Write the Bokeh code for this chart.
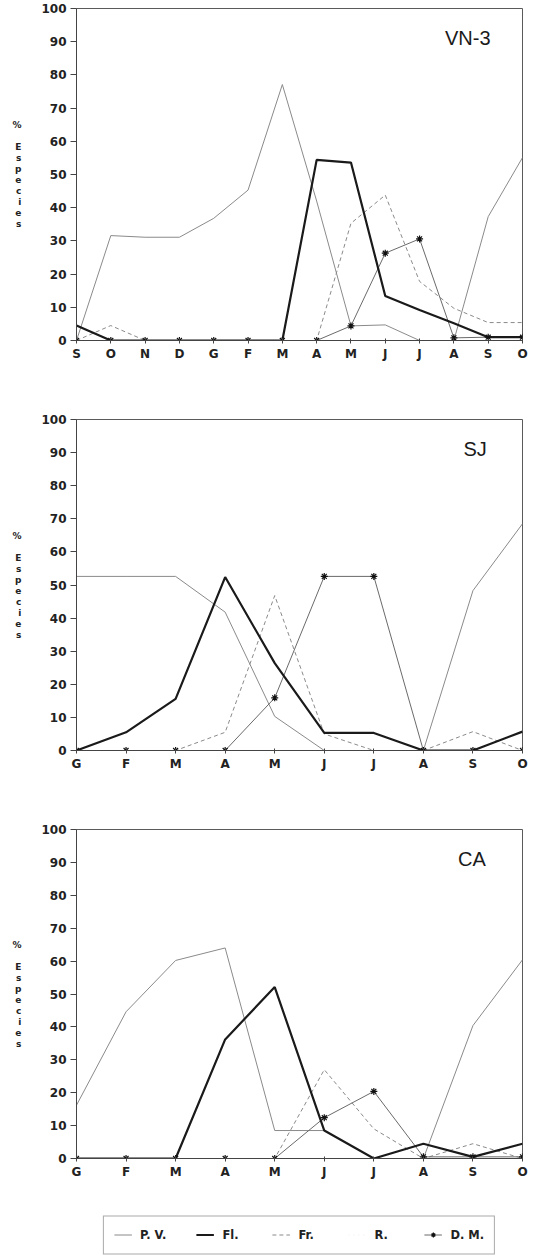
from bokeh.plotting import figure
from bokeh.models import Range1d, FixedTicker, Label, Legend, LegendItem, ColumnDataSource
from bokeh.layouts import column
from bokeh.embed import file_html
from bokeh.resources import INLINE

# ---------------- data ----------------
months_vn3 = ["S", "O", "N", "D", "G", "F", "M", "A", "M", "J", "J", "A", "S", "O"]
months_sj = ["G", "F", "M", "A", "M", "J", "J", "A", "S", "O"]
months_ca = ["G", "F", "M", "A", "M", "J", "J", "A", "S", "O"]

series_names = ["P. V.", "Fl.", "Fr.", "R.", "D. M."]

vn3_pv = [0, 31.6, 31.1, 31.1, 36.8, 45.3, 77.1, 42.0, 4.4, 4.7, 0, 0, 37.3, 55.1]
vn3_fl = [4.5, 0, 0, 0, 0, 0, 0, 54.4, 53.6, 13.4, 9.2, 5.2, 1.0, 1.0]
vn3_fr = [0, 4.5, 0, 0, 0, 0, 0, 0, 35.3, 43.8, 17.8, 9.7, 5.4, 5.4]
vn3_r = [0, 0, 0, 0, 0, 0, 0, 0, 0, 0, 0, 0, 0, 0]
vn3_dm = [0, 0, 0, 0, 0, 0, 0, 0, 4.4, 26.3, 30.6, 0.8, 1.0, 1.0]

sj_pv = [52.6, 52.6, 52.6, 41.8, 10.3, 0, 0, 0, 48.3, 68.5]
sj_fl = [0, 5.5, 15.6, 52.4, 26.4, 5.3, 5.3, 0, 0, 5.7]
sj_fr = [0, 0, 0, 5.5, 46.8, 5.0, 0, 0, 5.7, 0]
sj_r = [0, 0, 0, 0, 0, 0, 0, 0, 0, 0]
sj_dm = [0, 0, 0, 0, 15.9, 52.6, 52.6, 0, 0, 0]

ca_pv = [16.2, 44.6, 60.2, 64.0, 8.5, 8.5, 0, 0, 40.4, 60.4]
ca_fl = [0, 0, 0, 36.2, 52.1, 8.5, 0, 4.5, 0.5, 4.5]
ca_fr = [0, 0, 0, 0, 0, 27.0, 9.0, 0, 4.5, 0]
ca_r = [0, 0, 0, 0, 0, 0, 0, 0, 0, 0]
ca_dm = [0, 0, 0, 0, 0, 12.4, 20.4, 0.5, 0.5, 0.5]

y_label = "%\n\nE\ns\np\ne\nc\ni\ne\ns"

# ---------------- styles ----------------
PV_STYLE = dict(line_color="#8a8a8a", line_width=1)
FL_STYLE = dict(line_color="#1a1a1a", line_width=2.2)
FR_STYLE = dict(line_color="#8a8a8a", line_width=1, line_dash="4 3")
R_STYLE = dict(line_color="#ececec", line_width=1, line_dash="1 4")
DM_LINE_STYLE = dict(line_color="#6a6a6a", line_width=1)
DM_MARK_STYLE = dict(marker="asterisk", size=7, line_color="#111111", line_width=1.2)

TICK_FONT = "DejaVu Sans"


def make_source(months, pv, fl, fr, r, dm):
    return ColumnDataSource(data=dict(x=list(range(len(months))), pv=pv, fl=fl,
                                      fr=fr, r=r, dm=dm))


def make_panel(months, src, title, height, left, top, bottom, title_x):
    n = len(months)
    xs = list(range(n))
    right = 539 - left - 451 if left > 72 else 539 - left - 450
    p = figure(width=539, height=height,
               x_range=Range1d(0, n - 1), y_range=Range1d(0, 100),
               output_backend="svg", toolbar_location=None,
               min_border_left=left, min_border_right=right,
               min_border_top=top, min_border_bottom=bottom)
    p.xgrid.visible = False
    p.ygrid.visible = False
    p.outline_line_color = "#5a5a5a"
    p.outline_line_width = 1
    p.background_fill_color = "white"
    p.border_fill_color = "white"

    p.line("x", "r", source=src, **R_STYLE)
    p.line("x", "fr", source=src, **FR_STYLE)
    p.line("x", "pv", source=src, **PV_STYLE)
    p.line("x", "dm", source=src, **DM_LINE_STYLE)
    p.line("x", "fl", source=src, **FL_STYLE)
    p.scatter("x", "dm", source=src, **DM_MARK_STYLE)

    p.yaxis.ticker = FixedTicker(ticks=list(range(0, 101, 10)))
    p.xaxis.ticker = FixedTicker(ticks=xs)
    p.xaxis.major_label_overrides = {i: m for i, m in enumerate(months)}
    p.axis.minor_tick_line_color = None
    p.axis.axis_line_color = "#444444"
    p.axis.major_tick_line_color = "#444444"
    p.yaxis.major_tick_out = 6
    p.yaxis.major_tick_in = 0
    p.xaxis.major_tick_out = 3
    p.xaxis.major_tick_in = 2
    p.yaxis.major_label_standoff = 4
    p.xaxis.major_label_standoff = 3
    p.axis.major_label_text_font = TICK_FONT
    p.axis.major_label_text_font_style = "bold"
    p.axis.major_label_text_font_size = "12px"
    p.axis.major_label_text_color = "#222222"

    p.yaxis.axis_label = y_label
    p.yaxis.axis_label_orientation = "horizontal"
    p.yaxis.axis_label_standoff = 17
    p.yaxis.axis_label_text_font = TICK_FONT
    p.yaxis.axis_label_text_font_style = "bold"
    p.yaxis.axis_label_text_font_size = "9px"
    p.yaxis.axis_label_text_line_height = 1.1
    p.yaxis.axis_label_text_color = "#222222"
    p.yaxis.axis_label_text_align = "center"

    p.add_layout(Label(x=title_x, y=91, text=title, text_align="right",
                       text_baseline="middle", text_font="Liberation Sans",
                       text_font_size="20px", text_color="#1a1a1a"))
    return p


src_vn3 = make_source(months_vn3, vn3_pv, vn3_fl, vn3_fr, vn3_r, vn3_dm)
src_sj = make_source(months_sj, sj_pv, sj_fl, sj_fr, sj_r, sj_dm)
src_ca = make_source(months_ca, ca_pv, ca_fl, ca_fr, ca_r, ca_dm)

p1 = make_panel(months_vn3, src_vn3, "VN-3", height=390, left=72, top=8, bottom=50,
                title_x=12.07)
p2 = make_panel(months_sj, src_sj, "SJ", height=410, left=73, top=29, bottom=50,
                title_x=8.28)
p3 = make_panel(months_ca, src_ca, "CA", height=405, left=76, top=29, bottom=47,
                title_x=8.26)

# ---------------- legend (renderers share panel CA's data, kept out of view) ----------------
lg = figure(width=539, height=51, x_range=Range1d(0, 1), y_range=Range1d(-300, -200),
            output_backend="svg", toolbar_location=None,
            x_axis_location=None, y_axis_location=None,
            min_border_left=62, min_border_right=0, min_border_top=8, min_border_bottom=0)
lg.grid.visible = False
lg.outline_line_color = None
r_pv = lg.line("x", "pv", source=src_ca, **PV_STYLE)
r_fl = lg.line("x", "fl", source=src_ca, **FL_STYLE)
r_fr = lg.line("x", "fr", source=src_ca, **FR_STYLE)
r_r = lg.line("x", "r", source=src_ca, **R_STYLE)
r_dml = lg.line("x", "dm", source=src_ca, **DM_LINE_STYLE)
r_dmm = lg.scatter("x", "dm", source=src_ca, **DM_MARK_STYLE)
legend = Legend(items=[
    LegendItem(label=series_names[0], renderers=[r_pv]),
    LegendItem(label=series_names[1], renderers=[r_fl]),
    LegendItem(label=series_names[2], renderers=[r_fr]),
    LegendItem(label=series_names[3], renderers=[r_r]),
    LegendItem(label=series_names[4], renderers=[r_dml, r_dmm]),
], location="center", orientation="horizontal")
legend.border_line_color = "#555555"
legend.border_line_width = 1
legend.background_fill_color = "white"
legend.padding = 10
legend.spacing = 30
legend.glyph_width = 18
legend.glyph_height = 12
legend.label_standoff = 8
legend.label_height = 17
legend.label_text_font = TICK_FONT
legend.label_text_font_style = "bold"
legend.label_text_font_size = "11.5px"
legend.label_text_color = "#222222"
lg.add_layout(legend)

layout = column(p1, p2, p3, lg, spacing=0)
open("out.html", "w").write(file_html(layout, INLINE))
